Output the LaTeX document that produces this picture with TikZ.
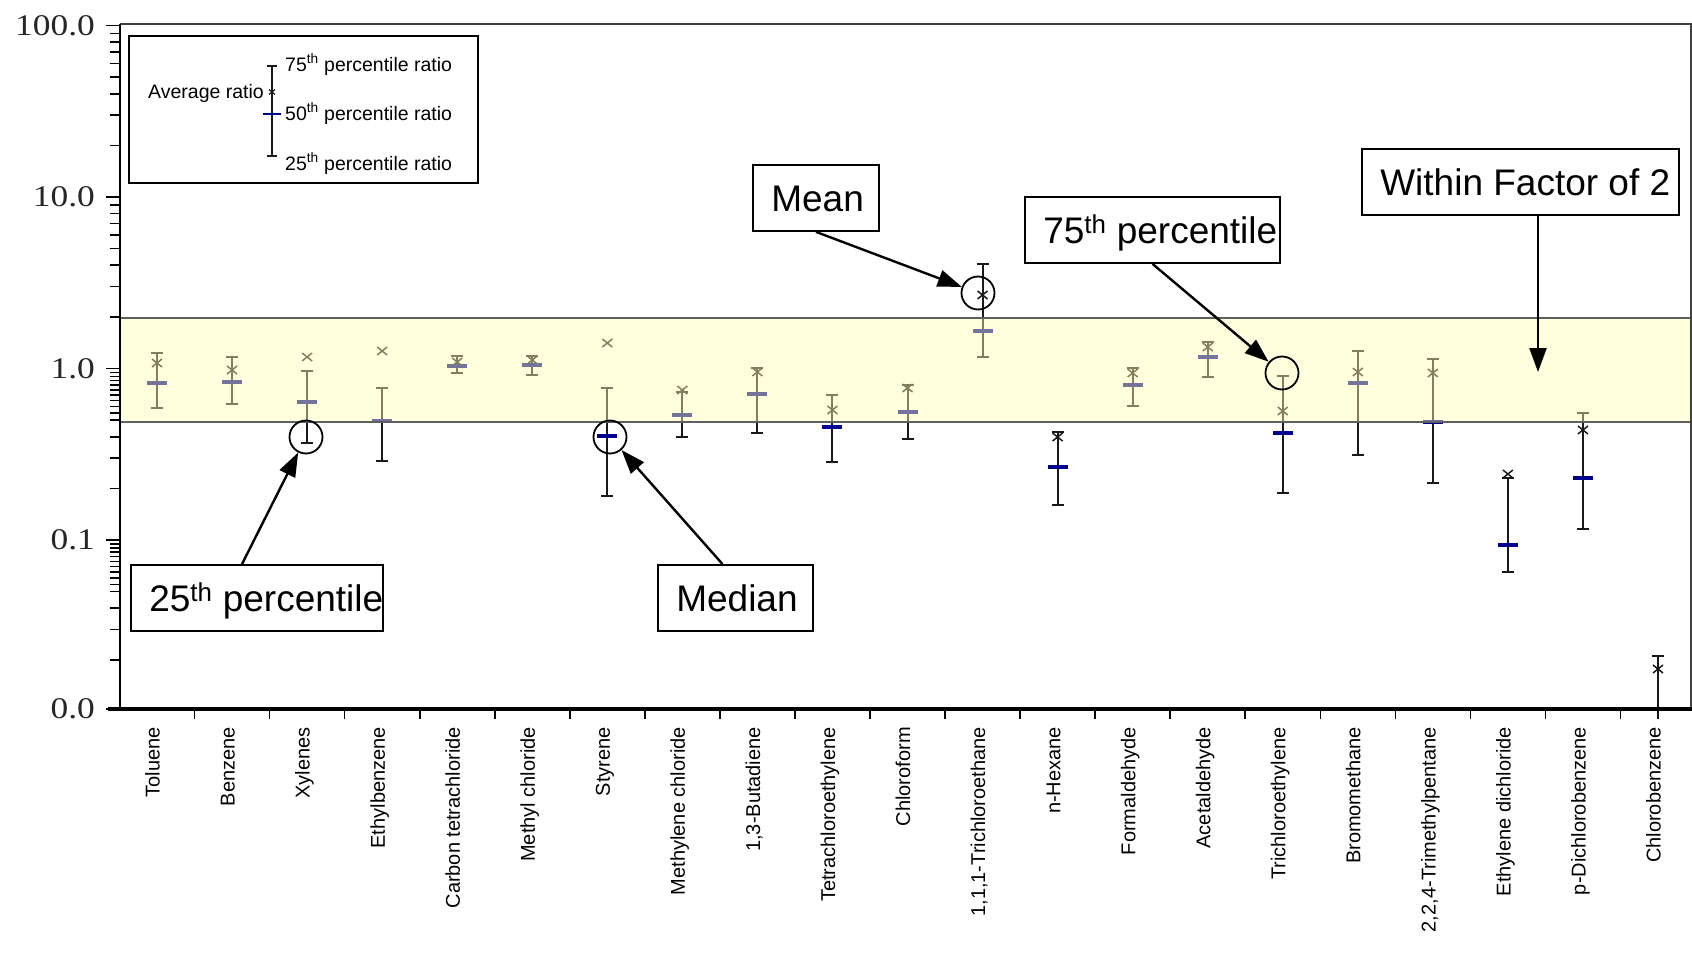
\documentclass[tikz,border=0pt]{standalone}
\usepackage{fontspec}
\setmainfont{Liberation Sans}
\newfontfamily\ticknum[FakeStretch=1.18]{Liberation Serif}
\usepackage{tikz}
\usetikzlibrary{arrows.meta}

\definecolor{medblue}{RGB}{0,0,140}
\definecolor{bandyellow}{RGB}{255,255,182}
\definecolor{bandline}{RGB}{95,95,95}
\definecolor{barblack}{RGB}{25,25,25}

\begin{document}
\begin{tikzpicture}[x=1pt, y=-1pt,
		whisker/.style={draw=barblack, line width=2pt},
		medianbar/.style={draw=medblue, line width=3.4pt},
		meanmark/.style={draw=barblack, line width=1.5pt},
		axistick/.style={draw=black, line width=1.6pt},
		callout/.style={draw, line width=1.8pt, minimum height=66pt, inner sep=0pt},
		calltext/.style={anchor=base west, inner sep=0pt, xshift=19pt, yshift=-13pt, font=\fontsize{37}{44}\selectfont},
		ring/.style={draw, circle, line width=1.8pt, minimum size=33pt, inner sep=0pt},
		callarrow/.style={line width=2.4pt, -{Triangle[length=24pt, width=17pt]}},
		legtext/.style={inner sep=0pt, font=\fontsize{19.5}{22}\selectfont},
		chemlabel/.style={rotate=90, anchor=mid east, inner sep=0pt, font=\fontsize{20}{24}\selectfont}
		]
		\useasboundingbox (0,0) rectangle (1692,958);

		\begin{scope}
				\foreach \i/\hi/\av/\md/\lo in{
						0/353/363/383/408,
						1/357/370/382/404,
						2/371/357/402/443,
						3/388/351/421/461,
						4/356/362/366/373,
						5/356/360/365/375,
						6/388/343/436/496,
						7/392/390/415/437,
						8/368/372/394/433,
						9/395/410/427/462,
						10/385/388/412/439,
						11/264/295/331/357,
						12/432/437/467/505,
						13/368/373/385/406,
						14/342/347/357/377,
						15/376/411/433/493,
						16/351/372/383/455,
						17/359/373/422/483,
						18/478/474/545/572,
						19/413/430/478/529,
						20/656/669/720/719
				}{
				\pgfmathsetmacro{\xm}{157+75.05*\i}
				\draw[whisker] (\xm,\hi) -- (\xm,\lo);
				\draw[whisker] (\xm-6,\hi) -- (\xm+6,\hi);
				\ifdim\lo pt<712pt \draw[whisker] (\xm-6,\lo) -- (\xm+6,\lo); \fi
				\ifdim\md pt<712pt \draw[medianbar] (\xm-10,\md) -- (\xm+10,\md); \fi
				\draw[meanmark] (\xm-5,\av-4) -- (\xm+5,\av+4) (\xm-5,\av+4) -- (\xm+5,\av-4);
				}

				\fill[bandyellow, opacity=0.45] (120,318) rectangle (1690,422);
				\draw[bandline, line width=2.8pt] (120,318) -- (1690,318);
				\draw[bandline, line width=2.2pt] (120,422) -- (1690,422);
		\end{scope}

		\begin{scope}
				\draw[line width=1.5pt, black!75] (120,24) -- (1691,24) -- (1691,709);
				\draw[line width=2pt] (120,24) -- (120,709);
				\draw[line width=4pt] (108,709) -- (1692,709);

				\foreach \e in {-2,-1,0,1}{
						\foreach \k in {2,...,9}{
						\pgfmathsetmacro{\yt}{368.5-171.5*(\e+log10(\k))}
						\draw[axistick] (110,\yt) -- (120,\yt);
						}
				}
				\foreach \e in {-2,-1}{
						\foreach \k in {5.5,6.5,7.5,8.5,9.5}{
						\pgfmathsetmacro{\yt}{368.5-171.5*(\e+log10(\k))}
						\draw[axistick] (110,\yt) -- (120,\yt);
						}
				}
				\foreach \v/\e in {100.0/2, 10.0/1, 1.0/0, 0.1/-1, 0.0/-2}{
				\pgfmathsetmacro{\yt}{min(368.5-171.5*\e,709)}
				\draw[axistick] (106,\yt) -- (120,\yt);
				\node[anchor=east, inner sep=0pt, text=black!85, font=\ticknum\fontsize{30}{34}\selectfont] (tick\e) at (95,\yt) {\v};
				}
				\foreach \k in {1,...,20}{
				\pgfmathsetmacro{\xt}{119.5+75.05*\k}
				\draw[axistick] (\xt,709) -- (\xt,719);
				}

				\foreach \i/\name in {
						0/Toluene,
						1/Benzene,
						2/Xylenes,
						3/Ethylbenzene,
						4/Carbon tetrachloride,
						5/Methyl chloride,
						6/Styrene,
						7/Methylene chloride,
						8/{1,3-Butadiene},
						9/Tetrachloroethylene,
						10/Chloroform,
						11/{1,1,1-Trichloroethane},
						12/n-Hexane,
						13/Formaldehyde,
						14/Acetaldehyde,
						15/Trichloroethylene,
						16/Bromomethane,
						17/{2,2,4-Trimethylpentane},
						18/Ethylene dichloride,
						19/p-Dichlorobenzene,
						20/Chlorobenzene
				}{
				\pgfmathsetmacro{\xm}{157+75.05*\i}
				\node[chemlabel] (chem\i) at (\xm,727) {\name};
				}
		\end{scope}

		\node[draw, line width=1.5pt, minimum width=349pt, minimum height=147pt, inner sep=0pt] (legend) at (303.5,109.5) {};
		\draw[whisker, line width=1.6pt] (272,66) -- (272,156) (267,66) -- (277,66) (267,156) -- (277,156);
		\draw[medianbar, line width=2.6pt] (263,114) -- (281,114);
		\draw[meanmark, line width=1.2pt] (269,89.5) -- (275,94.5) (269,94.5) -- (275,89.5);
		\node[legtext, anchor=base west] (leg75) at (285,71) {75\textsuperscript{th} percentile ratio};
		\node[legtext, anchor=base west] (leg50) at (285,120) {50\textsuperscript{th} percentile ratio};
		\node[legtext, anchor=base west] (leg25) at (285,170) {25\textsuperscript{th} percentile ratio};
		\node[legtext, anchor=base east] (legavg) at (264,99) {Average ratio};

		\node[ring] (ring25) at (306,437) {};
		\node[ring] (ringmed) at (610,437) {};
		\node[ring] (ringmean) at (978,293) {};
		\node[ring] (ring75) at (1282,373) {};

		\node[callout, minimum width=252pt, label={[calltext]west:25\textsuperscript{th} percentile}] (p25box) at (257,598) {};
		\node[callout, minimum width=155pt, label={[calltext]west:Median}] (medbox) at (735.5,598) {};
		\node[callout, minimum width=126pt, label={[calltext]west:Mean}] (meanbox) at (816,198) {};
		\node[callout, minimum width=255pt, label={[calltext]west:75\textsuperscript{th} percentile}] (pct75box) at (1152.5,230) {};
		\node[callout, minimum width=317pt, label={[calltext]west:Within Factor of 2}] (factorbox) at (1520.5,182) {};
		\coordinate (bandmark) at (1538,372);

		\draw[callarrow] ([xshift=-15pt]p25box.north) -- (ring25);
		\draw[callarrow] ([xshift=-13pt]medbox.north) -- (ringmed);
		\draw[callarrow] (meanbox.south) -- (ringmean);
		\draw[callarrow] (pct75box.south) -- (ring75);
		\draw[callarrow] (factorbox.south -| bandmark) -- (bandmark);
\end{tikzpicture}
\end{document}
